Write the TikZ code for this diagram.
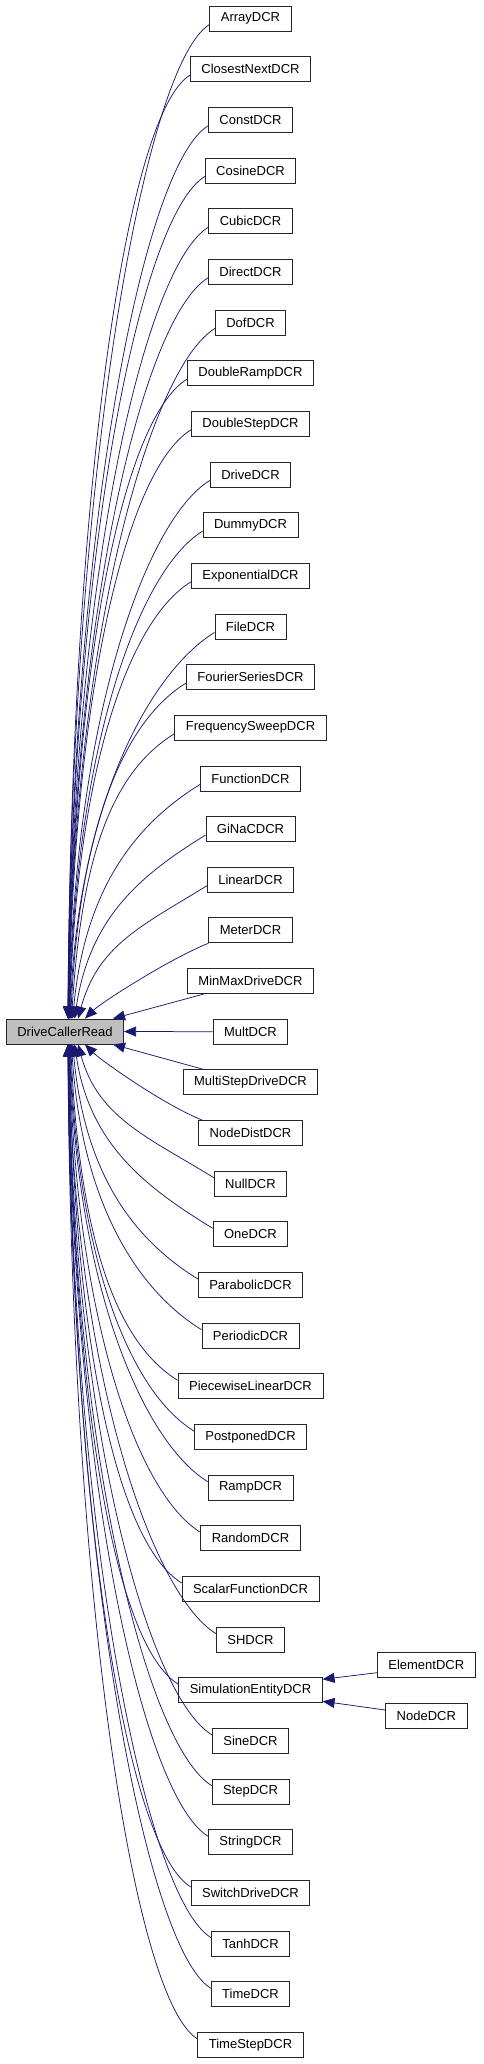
\documentclass[tikz,border=0pt]{standalone}
\usepackage{fontspec}
\setmainfont{Liberation Sans}
\usetikzlibrary{calc,arrows.meta}
\definecolor{edgeblue}{HTML}{191970}
\tikzset{
  classbox/.style={draw=black!85, line width=0.8pt, fill=white, minimum height=25pt,
    inner xsep=11pt, inner ysep=0pt, font=\fontsize{13}{15}\selectfont},
  basebox/.style={classbox, fill=black!25},
  inherit/.style={draw=edgeblue, line width=0.75pt, {Triangle[length=12pt,width=10pt]}-}
}
\begin{document}
\begin{tikzpicture}[x=1pt,y=1pt]
    \useasboundingbox (0,0) rectangle (483,-2064);

    % base class
    \node[basebox] (DriveCallerRead) at (65,-1031.5) {DriveCallerRead};

    % derived classes, one per row
    \foreach \cls [count=\i from 0] in {ArrayDCR,ClosestNextDCR,ConstDCR,CosineDCR,CubicDCR,
        DirectDCR,DofDCR,DoubleRampDCR,DoubleStepDCR,DriveDCR,DummyDCR,ExponentialDCR,FileDCR,
        FourierSeriesDCR,FrequencySweepDCR,FunctionDCR,GiNaCDCR,LinearDCR,MeterDCR,MinMaxDriveDCR,
        MultDCR,MultiStepDriveDCR,NodeDistDCR,NullDCR,OneDCR,ParabolicDCR,PeriodicDCR,
        PiecewiseLinearDCR,PostponedDCR,RampDCR,RandomDCR,ScalarFunctionDCR,SHDCR,
        SimulationEntityDCR,SineDCR,StepDCR,StringDCR,SwitchDriveDCR,TanhDCR,TimeDCR,TimeStepDCR}{
      \node[classbox] (\cls) at (250.5,{-18.5-50.66*\i}) {\cls};
    }

    % second level
    \node[classbox] (ElementDCR) at (426.3,-1665.2) {ElementDCR};
    \node[classbox] (NodeDCR) at (426.3,-1715.5) {NodeDCR};

    % edges next to the base class
    \draw[inherit] (DriveCallerRead.east) -- (MultDCR.west);
    \draw[inherit] ($(DriveCallerRead.north)+(48,0)$) -- ($(MinMaxDriveDCR.south west)+(17,0)$);
    \draw[inherit] ($(DriveCallerRead.north)+(20,0)$) .. controls +(15,15) and +(-40,-16) .. (MeterDCR.south west);
    \draw[inherit] ($(DriveCallerRead.south)+(48,0)$) -- ($(MultiStepDriveDCR.north west)+(21,0)$);
    \draw[inherit] ($(DriveCallerRead.south)+(20,0)$) .. controls +(15,-15) and +(-40,16) .. ($(NodeDistDCR.north west)+(4,0)$);

    % edges from the rows above
    \foreach \cls [count=\d from 3] in {LinearDCR,GiNaCDCR,FunctionDCR,FrequencySweepDCR,
        FourierSeriesDCR,FileDCR,ExponentialDCR,DummyDCR,DriveDCR,DoubleStepDCR,DoubleRampDCR,
        DofDCR,DirectDCR,CubicDCR,CosineDCR,ConstDCR,ClosestNextDCR,ArrayDCR}{
      \pgfmathsetmacro\dx{2+46/(\d^1.3)}
      \pgfmathsetmacro\D{50.66*\d-18.5}
      \draw[inherit] ($(DriveCallerRead.north)+(\dx,0)$) .. controls +({60/\d},{0.55*\D}) and +(-65,-40) .. ($(\cls.west)+(0,-6)$);
    }

    % edges from the rows below
    \foreach \cls [count=\d from 3] in {NullDCR,OneDCR,ParabolicDCR,PeriodicDCR,PiecewiseLinearDCR,
        PostponedDCR,RampDCR,RandomDCR,ScalarFunctionDCR,SHDCR,SimulationEntityDCR,SineDCR,StepDCR,
        StringDCR,SwitchDriveDCR,TanhDCR,TimeDCR,TimeStepDCR}{
      \pgfmathsetmacro\dx{2+46/(\d^1.3)}
      \pgfmathsetmacro\D{50.66*\d-18.5}
      \draw[inherit] ($(DriveCallerRead.south)+(\dx,0)$) .. controls +({60/\d},{-0.55*\D}) and +(-65,40) .. ($(\cls.west)+(0,6)$);
    }

    % second level edges
    \draw[inherit] ($(SimulationEntityDCR.east)+(0,11)$) -- ($(ElementDCR.west)+(0,-7.5)$);
    \draw[inherit] ($(SimulationEntityDCR.east)+(0,-11)$) -- ($(NodeDCR.west)+(0,5.5)$);
\end{tikzpicture}
\end{document}
